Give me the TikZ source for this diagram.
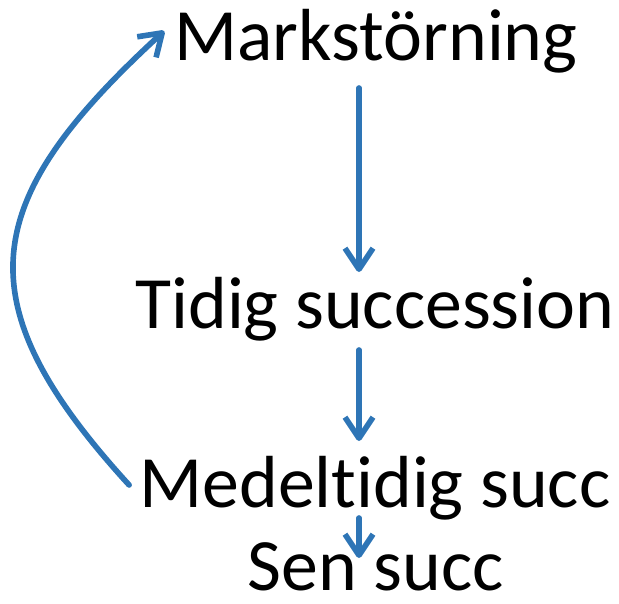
\documentclass[tikz,border=0pt]{standalone}
\usepackage{fontspec}
\setmainfont{Carlito}[Ligatures=NoCommon]
\usetikzlibrary{arrows.meta,calc}
\definecolor{flowblue}{HTML}{2E75B6}
\begin{document}
\begin{tikzpicture}[x=0.02cm, y=-0.02cm,
    stage/.style={inner sep=0, anchor=base, font=\fontsize{42}{50}\selectfont},
    flow/.style={flowblue, line width=3.2pt, line cap=round,
      -{Straight Barb[length=0.42cm, width=0.56cm, line join=round]}}]
  \useasboundingbox (0,0) rectangle (619,603);

  \node[stage] (mark)  at (376,60)  {Markstörning};
  \node[stage] (tidig) at (375,328) {Tidig succession};
  \node[stage] (medel) at (375,507) {Medeltidig succ};
  \node[stage] (sen)   at (376,590) {Sen succ};

  \draw[flow] ($(mark.base)+(-17,28)$) -- ($(tidig.base)+(-16,-56)$);
  \draw[flow] ($(tidig.base)+(-16,22)$) -- ($(medel.base)+(-16,-66)$);
  \draw[flow] ($(medel.base)+(-16,11)$) -- ($(sen.base)+(-17,-32)$);
  \draw[flow] ($(medel.base west)+(-10,-22)$) .. controls (-40,300) and (-20,200) .. ($(mark.base west)+(-10,-29)$);
\end{tikzpicture}
\end{document}
